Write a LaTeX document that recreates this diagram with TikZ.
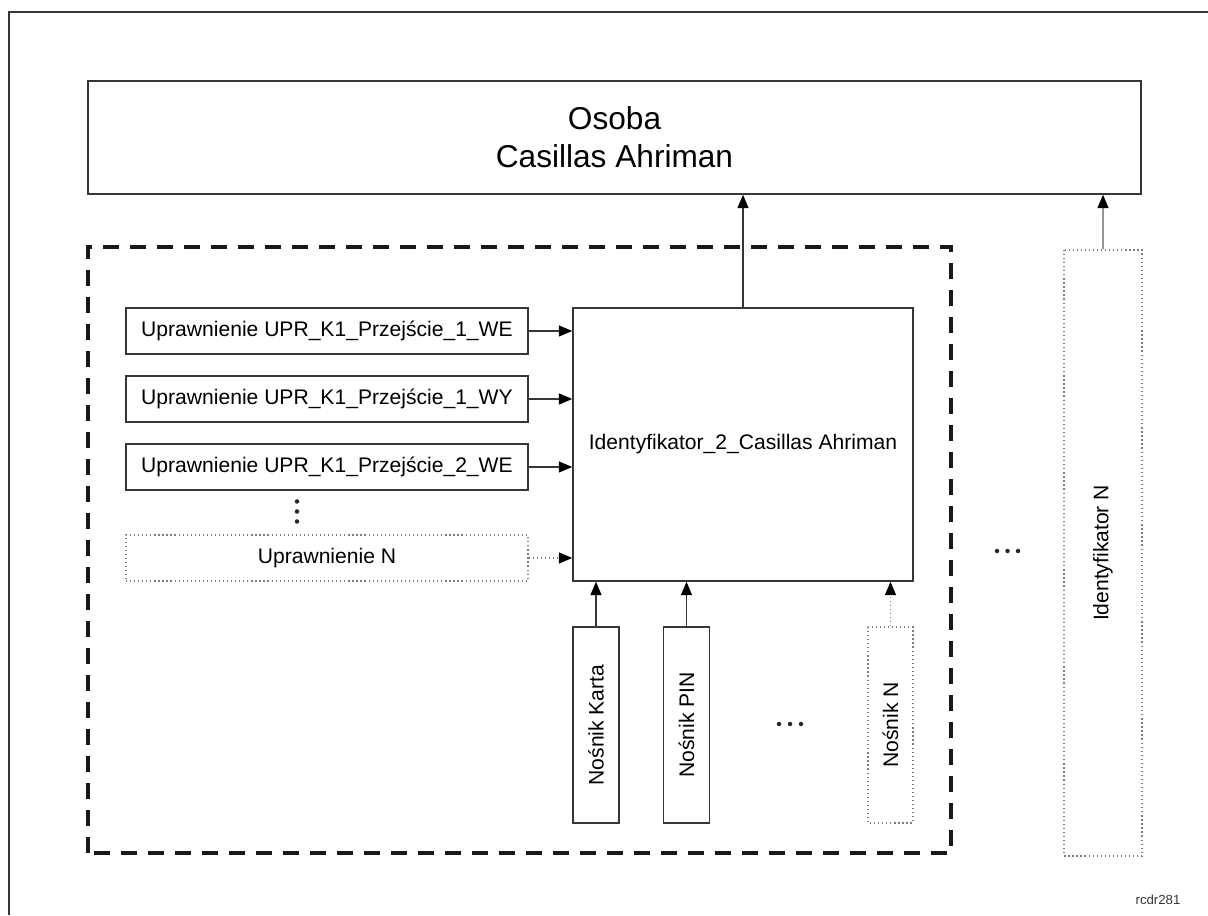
\documentclass[tikz,border=0pt]{standalone}
\usepackage{fontspec}
\setmainfont{Liberation Sans}
\usetikzlibrary{arrows.meta, positioning}
\definecolor{rogerline}{RGB}{55,55,55}
\definecolor{rogerdots}{RGB}{125,125,125}
\definecolor{rogergray}{RGB}{150,150,150}

\begin{document}
\begin{tikzpicture}[
    box/.style={
        rectangle,
        draw=rogerline,
        line width=0.8pt,
        fill=white,
        inner sep=0pt,
        align=center,
        font=\fontsize{12}{14}\selectfont
    },
    dotbox/.style={
        box,
        draw=rogerdots,
        dash pattern=on 0.7pt off 1.6pt
    },
    arrow/.style={
        -{Triangle[length=0.27cm, width=0.22cm, color=black]},
        line width=0.8pt,
        rogerline
    },
    dotarrow/.style={
        arrow,
        rogerdots,
        dash pattern=on 0.7pt off 1.6pt
    },
    sketchdot/.style={
        fill=black!85
    }
]

\useasboundingbox (0,0) rectangle (24.16,18.3);

% Frame
\draw[rogerline, line width=0.9pt] (0.18,0) -- (0.18,18.06) -- (24.16,18.06);
\draw[black!90, line width=2pt, dash pattern=on 0.32cm off 0.22cm] (1.76,1.24) rectangle (19.02,13.36);

% Nodes
\node[box, minimum width=21.06cm, minimum height=2.26cm,
      font=\fontsize{18}{21.6}\selectfont] (osoba) at (12.29,15.55) {Osoba\\Casillas Ahriman};

\node[box, minimum width=8.04cm, minimum height=0.92cm] (perm1) at (6.54,11.68) {Uprawnienie UPR\_K1\_Przejście\_1\_WE};
\node[box, minimum width=8.04cm, minimum height=0.92cm] (perm2) at (6.54,10.32) {Uprawnienie UPR\_K1\_Przejście\_1\_WY};
\node[box, minimum width=8.04cm, minimum height=0.92cm] (perm3) at (6.54,8.96) {Uprawnienie UPR\_K1\_Przejście\_2\_WE};
\node[dotbox, minimum width=8.04cm, minimum height=0.92cm] (permN) at (6.54,7.14) {Uprawnienie N};

\node[box, minimum width=6.8cm, minimum height=5.46cm] (ident) at (14.86,9.41) {Identyfikator\_2\_Casillas Ahriman};

\node[box, rotate=90, minimum width=3.92cm, minimum height=0.92cm] (karta) at (11.92,3.8) {Nośnik Karta};
\node[box, rotate=90, minimum width=3.92cm, minimum height=0.92cm] (pin) at (13.73,3.8) {Nośnik PIN};
\node[dotbox, rotate=90, minimum width=3.92cm, minimum height=0.9cm] (nosN) at (17.81,3.8) {Nośnik N};

\node[dotbox, rotate=90, minimum width=12.12cm, minimum height=1.56cm] (identN) at (22.06,7.24) {Identyfikator N};

\node[font=\fontsize{7.5}{9}\selectfont, text=rogerline] (code) at (23.16,0.3) {rcdr281};

% Dots
\foreach \y in {8.27, 8.07, 7.87} {
    \fill[sketchdot] (5.94,\y) circle (0.045);
}
\foreach \x in {15.58, 15.8, 16.02} {
    \fill[sketchdot] (\x,3.82) circle (0.045);
}
\foreach \x in {19.94, 20.15, 20.36} {
    \fill[sketchdot] (\x,7.28) circle (0.045);
}

% Arrows
\foreach \src in {perm1, perm2, perm3} {
    \draw[arrow] (\src.east) -- (\src.east -| ident.west);
}
\draw[dotarrow] (permN.east) -- (permN.east -| ident.west);
\foreach \src in {karta, pin} {
    \draw[arrow] (\src.east) -- (\src.east |- ident.south);
}
\draw[dotarrow] (nosN.east) -- (nosN.east |- ident.south);
\draw[arrow] (ident.north) -- (ident.north |- osoba.south);
\draw[arrow, rogergray] (identN.east) -- (identN.east |- osoba.south);

\end{tikzpicture}
\end{document}
